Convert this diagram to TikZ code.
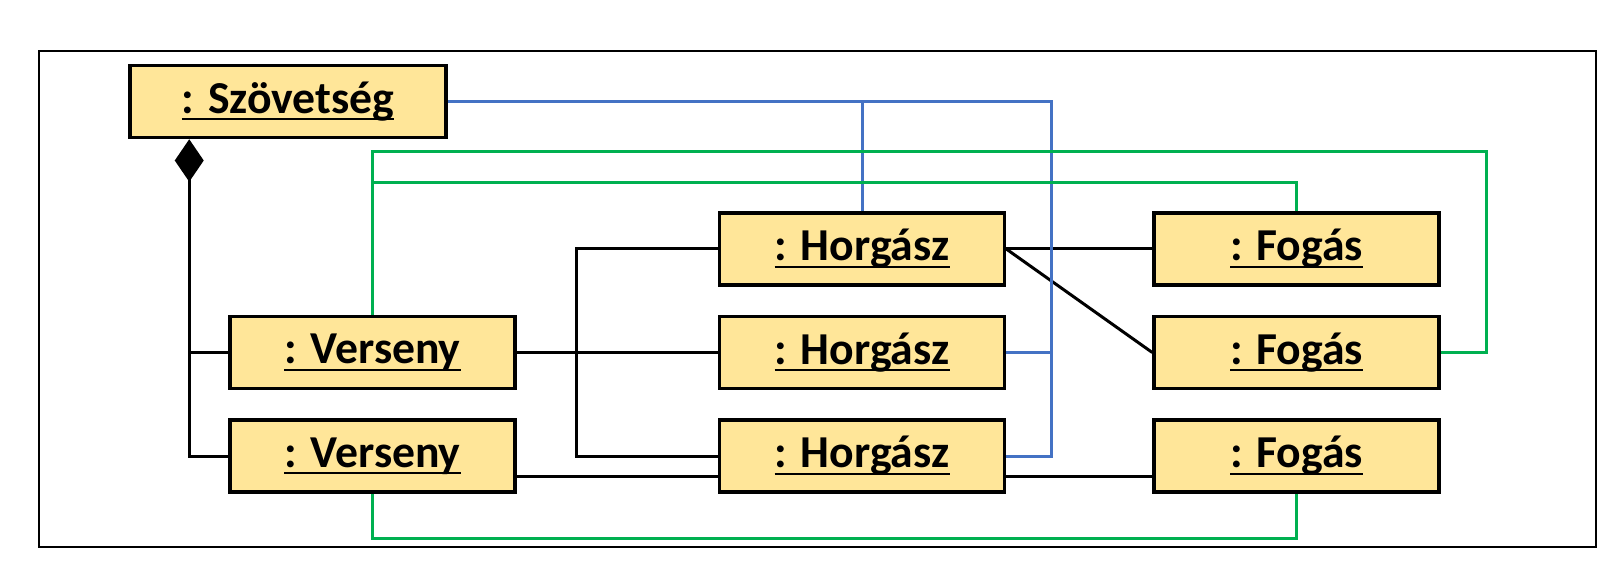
\documentclass[tikz,border=0pt]{standalone}
\usepackage{fontspec}
\setmainfont{Carlito}
\usetikzlibrary{positioning, arrows.meta}
\definecolor{objfill}{HTML}{FFE699}
\definecolor{linkblue}{HTML}{4472C4}
\definecolor{linkgreen}{HTML}{00B050}
\newsavebox{\objbox}
\newcommand{\objname}[1]{\sbox{\objbox}{#1}\rlap{\rule[-0.15em]{\wd\objbox}{0.045em}}\usebox{\objbox}}

\begin{document}
\begin{tikzpicture}
	\tikzset{
		obj/.style={
				rectangle, draw, line width=2pt, fill=objfill,
				minimum width=5.7cm, minimum height=1.44cm, inner sep=0pt,
				font=\bfseries\fontsize{26}{30}\selectfont,
			},
		link/.style={line width=1.7pt},
		bluelink/.style={link, draw=linkblue},
		greenlink/.style={link, draw=linkgreen},
	}
	\useasboundingbox (0,0) rectangle (32.44,11.68);
	\draw[line width=1.1pt] (0.78,0.74) rectangle (31.92,10.66);

	\node[obj, minimum width=6.32cm] (szov) at (5.76,9.65) {\objname{: Szövetség}};
	\node[obj] (vers1) at (7.45,4.63) {\objname{: Verseny}};
	\node[obj, below=0.56cm of vers1] (vers2) {\objname{: Verseny}};
	\node[obj, right=4.02cm of vers1] (horg2) {\objname{: Horgász}};
	\node[obj, above=0.56cm of horg2] (horg1) {\objname{: Horgász}};
	\node[obj, below=0.56cm of horg2] (horg3) {\objname{: Horgász}};
	\node[obj, right=2.92cm of horg1] (fog1) {\objname{: Fogás}};
	\node[obj, right=2.92cm of horg2] (fog2) {\objname{: Fogás}};
	\node[obj, right=2.92cm of horg3] (fog3) {\objname{: Fogás}};

	\coordinate (comp) at ([xshift=1.22cm]szov.south west);
	\draw[link, {Diamond[length=0.85cm, width=0.58cm]}-] (comp) |- (vers2.west);
	\draw[link] (vers1.west) -- (comp |- vers1.west);

	\draw[link] (vers1.east) -- (horg2.west);
	\draw[link] (horg1.west) -| ([xshift=1.2cm]vers1.east) |- (horg3.west);
	\draw[link] ([yshift=-0.4cm]vers2.east) -- ([yshift=-0.4cm]horg3.west);
	\draw[link] (horg1.east) -- (fog1.west);
	\draw[link] (horg1.east) -- (fog2.west);
	\draw[link] ([yshift=-0.4cm]horg3.east) -- ([yshift=-0.4cm]fog3.west);

	\draw[bluelink] (szov.east) -| ([xshift=0.9cm]horg3.east) -- (horg3.east);
	\draw[bluelink] (horg1.north) -- (horg1.north |- szov.east);
	\draw[bluelink] (horg2.east) -- ++(0.9,0);

	\draw[greenlink] (vers1.north) -- ++(0,3.26) -| ([xshift=0.92cm]fog2.east) -- (fog2.east);
	\draw[greenlink] (fog1.north) |- ([yshift=2.64cm]vers1.north);
	\draw[greenlink] (vers2.south) -- ++(0,-0.9) -| (fog3.south);
\end{tikzpicture}
\end{document}
